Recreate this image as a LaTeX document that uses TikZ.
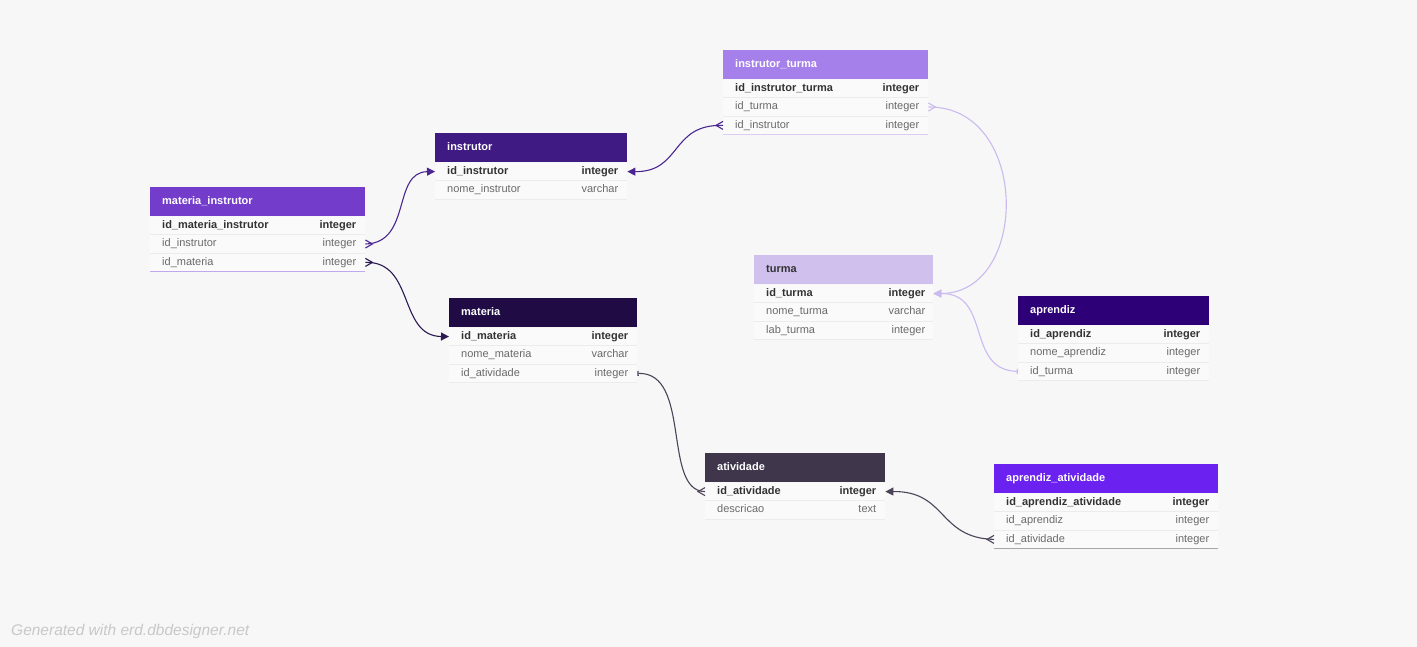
\documentclass[tikz,border=0pt]{standalone}
\usepackage{fontspec}
\setmainfont{Liberation Sans}
\usetikzlibrary{positioning}
\usetikzlibrary{arrows.meta}

\definecolor{bgc}{HTML}{F7F7F7}
\definecolor{rowbg}{HTML}{FAFAFA}
\definecolor{sepc}{HTML}{ECECEC}
\definecolor{pkc}{HTML}{333333}
\definecolor{fldc}{HTML}{6A6A6A}
\definecolor{hmi}{HTML}{733CCB}
\definecolor{hin}{HTML}{3F1A82}
\definecolor{hit}{HTML}{A680EA}
\definecolor{htu}{HTML}{D0C0EE}
\definecolor{hap}{HTML}{2E0078}
\definecolor{hma}{HTML}{200B45}
\definecolor{hat}{HTML}{3F364B}
\definecolor{haa}{HTML}{6B21EF}
\definecolor{lin}{HTML}{4B2590}
\definecolor{lma}{HTML}{2B1A52}
\definecolor{ltu}{HTML}{CBBAF0}
\definecolor{lat}{HTML}{4B4458}
\definecolor{credc}{HTML}{C8C8C8}

\begin{document}
\begin{tikzpicture}[x=1pt,y=-1pt,
  hdr/.style={anchor=north west,minimum height=29pt,inner sep=0pt},
  title/.style={font=\fontsize{11}{13}\selectfont\bfseries,text=white,inner sep=0pt,text height=8pt,text depth=2.5pt},
  row/.style={anchor=north west,minimum height=18pt,inner sep=0pt,fill=rowbg},
  pk/.style={font=\fontsize{11}{13}\selectfont\bfseries,text=pkc,inner sep=0pt,text height=8pt,text depth=2.5pt},
  fld/.style={font=\fontsize{11}{13}\selectfont,text=fldc,inner sep=0pt,text height=8pt,text depth=2.5pt},
  sep/.style={draw=sepc,line width=0.8pt},
  pkarrow/.tip={Triangle[length=8pt,width=8pt]},
  onebar/.tip={Bar[width=5pt,line width=1.3pt]},
  fk/.style={line width=1.1pt}
]
\fill[bgc] (0,0) rectangle (1417,647);
\useasboundingbox (0,0) rectangle (1417,647);

\node[hdr,fill=hmi,minimum width=215pt] (mi) at (150,187) {};
\node[title,right=12pt of mi.west] (mit) {materia\_instrutor};
\node[row,minimum width=215pt] (mi1) at (mi.south west) {};
\node[row,minimum width=215pt] (mi2) at (mi1.south west) {};
\node[row,minimum width=215pt] (mi3) at (mi2.south west) {};
\node[pk,right=12pt of mi1.west] (mi1n) {id\_materia\_instrutor};
\node[pk,left=9pt of mi1.east] (mi1t) {integer};
\node[fld,right=12pt of mi2.west] (mi2n) {id\_instrutor};
\node[fld,left=9pt of mi2.east] (mi2t) {integer};
\node[fld,right=12pt of mi3.west] (mi3n) {id\_materia};
\node[fld,left=9pt of mi3.east] (mi3t) {integer};
\draw[sep] (mi1.south west) -- (mi1.south east);
\draw[sep] (mi2.south west) -- (mi2.south east);
\draw[draw=hit!70,line width=1pt] (mi3.south west) -- (mi3.south east);

\node[hdr,fill=hin,minimum width=192pt] (in) at (435,133) {};
\node[title,right=12pt of in.west] (int) {instrutor};
\node[row,minimum width=192pt] (in1) at (in.south west) {};
\node[row,minimum width=192pt] (in2) at (in1.south west) {};
\node[pk,right=12pt of in1.west] (in1n) {id\_instrutor};
\node[pk,left=9pt of in1.east] (in1t) {integer};
\node[fld,right=12pt of in2.west] (in2n) {nome\_instrutor};
\node[fld,left=9pt of in2.east] (in2t) {varchar};
\draw[sep] (in1.south west) -- (in1.south east);
\draw[sep] (in2.south west) -- (in2.south east);

\node[hdr,fill=hit,minimum width=205pt] (it) at (723,50) {};
\node[title,right=12pt of it.west] (itt) {instrutor\_turma};
\node[row,minimum width=205pt] (it1) at (it.south west) {};
\node[row,minimum width=205pt] (it2) at (it1.south west) {};
\node[row,minimum width=205pt] (it3) at (it2.south west) {};
\node[pk,right=12pt of it1.west] (it1n) {id\_instrutor\_turma};
\node[pk,left=9pt of it1.east] (it1t) {integer};
\node[fld,right=12pt of it2.west] (it2n) {id\_turma};
\node[fld,left=9pt of it2.east] (it2t) {integer};
\node[fld,right=12pt of it3.west] (it3n) {id\_instrutor};
\node[fld,left=9pt of it3.east] (it3t) {integer};
\draw[sep] (it1.south west) -- (it1.south east);
\draw[sep] (it2.south west) -- (it2.south east);
\draw[draw=htu!80,line width=1pt] (it3.south west) -- (it3.south east);

\node[hdr,fill=htu,minimum width=179pt] (tu) at (754,255) {};
\node[title,text=pkc,right=12pt of tu.west] (tut) {turma};
\node[row,minimum width=179pt] (tu1) at (tu.south west) {};
\node[row,minimum width=179pt] (tu2) at (tu1.south west) {};
\node[row,minimum width=179pt] (tu3) at (tu2.south west) {};
\node[pk,right=12pt of tu1.west] (tu1n) {id\_turma};
\node[pk,left=8pt of tu1.east] (tu1t) {integer};
\node[fld,right=12pt of tu2.west] (tu2n) {nome\_turma};
\node[fld,left=8pt of tu2.east] (tu2t) {varchar};
\node[fld,right=12pt of tu3.west] (tu3n) {lab\_turma};
\node[fld,left=8pt of tu3.east] (tu3t) {integer};
\draw[sep] (tu1.south west) -- (tu1.south east);
\draw[sep] (tu2.south west) -- (tu2.south east);
\draw[sep] (tu3.south west) -- (tu3.south east);

\node[hdr,fill=hap,minimum width=191pt] (ap) at (1018,296) {};
\node[title,right=12pt of ap.west] (apt) {aprendiz};
\node[row,minimum width=191pt] (ap1) at (ap.south west) {};
\node[row,minimum width=191pt] (ap2) at (ap1.south west) {};
\node[row,minimum width=191pt] (ap3) at (ap2.south west) {};
\node[pk,right=12pt of ap1.west] (ap1n) {id\_aprendiz};
\node[pk,left=9pt of ap1.east] (ap1t) {integer};
\node[fld,right=12pt of ap2.west] (ap2n) {nome\_aprendiz};
\node[fld,left=9pt of ap2.east] (ap2t) {integer};
\node[fld,right=12pt of ap3.west] (ap3n) {id\_turma};
\node[fld,left=9pt of ap3.east] (ap3t) {integer};
\draw[sep] (ap1.south west) -- (ap1.south east);
\draw[sep] (ap2.south west) -- (ap2.south east);
\draw[sep] (ap3.south west) -- (ap3.south east);

\node[hdr,fill=hma,minimum width=188pt] (ma) at (449,298) {};
\node[title,right=12pt of ma.west] (mat) {materia};
\node[row,minimum width=188pt] (ma1) at (ma.south west) {};
\node[row,minimum width=188pt] (ma2) at (ma1.south west) {};
\node[row,minimum width=188pt] (ma3) at (ma2.south west) {};
\node[pk,right=12pt of ma1.west] (ma1n) {id\_materia};
\node[pk,left=9pt of ma1.east] (ma1t) {integer};
\node[fld,right=12pt of ma2.west] (ma2n) {nome\_materia};
\node[fld,left=9pt of ma2.east] (ma2t) {varchar};
\node[fld,right=12pt of ma3.west] (ma3n) {id\_atividade};
\node[fld,left=9pt of ma3.east] (ma3t) {integer};
\draw[sep] (ma1.south west) -- (ma1.south east);
\draw[sep] (ma2.south west) -- (ma2.south east);
\draw[sep] (ma3.south west) -- (ma3.south east);

\node[hdr,fill=hat,minimum width=180pt] (at) at (705,453) {};
\node[title,right=12pt of at.west] (att) {atividade};
\node[row,minimum width=180pt] (at1) at (at.south west) {};
\node[row,minimum width=180pt] (at2) at (at1.south west) {};
\node[pk,right=12pt of at1.west] (at1n) {id\_atividade};
\node[pk,left=9pt of at1.east] (at1t) {integer};
\node[fld,right=12pt of at2.west] (at2n) {descricao};
\node[fld,left=9pt of at2.east] (at2t) {text};
\draw[sep] (at1.south west) -- (at1.south east);
\draw[sep] (at2.south west) -- (at2.south east);

\node[hdr,fill=haa,minimum width=224pt] (aa) at (994,464) {};
\node[title,right=12pt of aa.west] (aat) {aprendiz\_atividade};
\node[row,minimum width=224pt] (aa1) at (aa.south west) {};
\node[row,minimum width=224pt] (aa2) at (aa1.south west) {};
\node[row,minimum width=224pt] (aa3) at (aa2.south west) {};
\node[pk,right=12pt of aa1.west] (aa1n) {id\_aprendiz\_atividade};
\node[pk,left=9pt of aa1.east] (aa1t) {integer};
\node[fld,right=12pt of aa2.west] (aa2n) {id\_aprendiz};
\node[fld,left=9pt of aa2.east] (aa2t) {integer};
\node[fld,right=12pt of aa3.west] (aa3n) {id\_atividade};
\node[fld,left=9pt of aa3.east] (aa3t) {integer};
\draw[sep] (aa1.south west) -- (aa1.south east);
\draw[sep] (aa2.south west) -- (aa2.south east);
\draw[draw=black!35,line width=1pt] (aa3.south west) -- (aa3.south east);

\draw[fk,lin,-pkarrow] (mi2.east) .. controls (412,243) and (392,172) .. (in1.west);
\draw[fk,lin] ([yshift=4pt]mi2.east) -- ([xshift=7pt]mi2.east) -- ([yshift=-4pt]mi2.east);
\draw[fk,lma,-pkarrow] (mi3.east) .. controls (415,261) and (398,336) .. (ma1.west);
\draw[fk,lma] ([yshift=4pt]mi3.east) -- ([xshift=7pt]mi3.east) -- ([yshift=-4pt]mi3.east);
\draw[fk,lin,-pkarrow] (it3.west) .. controls (670,124) and (682,172) .. (in1.east);
\draw[fk,lin] ([yshift=4pt]it3.west) -- ([xshift=-7pt]it3.west) -- ([yshift=-4pt]it3.west);
\draw[fk,ltu,-pkarrow] (it2.east) .. controls (1030,106) and (1030,293) .. (tu1.east);
\draw[fk,ltu] ([yshift=4pt]it2.east) -- ([xshift=7pt]it2.east) -- ([yshift=-4pt]it2.east);
\draw[fk,ltu,onebar-pkarrow] (ap3.west) .. controls (965,370) and (992,293) .. (tu1.east);
\draw[fk,lat,onebar-] (ma3.east) .. controls (692,372) and (662,491) .. (at1.west);
\draw[fk,lat] ([yshift=4pt]at1.west) -- ([xshift=-7pt]at1.west) -- ([yshift=-4pt]at1.west);
\draw[fk,lat,-pkarrow] (aa3.west) .. controls (938,538) and (947,491) .. (at1.east);
\draw[fk,lat] ([yshift=4pt]aa3.west) -- ([xshift=-7pt]aa3.west) -- ([yshift=-4pt]aa3.west);

\node[font=\fontsize{15.5}{18}\selectfont\itshape,text=credc,anchor=west,inner sep=0pt] (credit) at (11,631) {Generated with erd.dbdesigner.net};

\end{tikzpicture}
\end{document}
